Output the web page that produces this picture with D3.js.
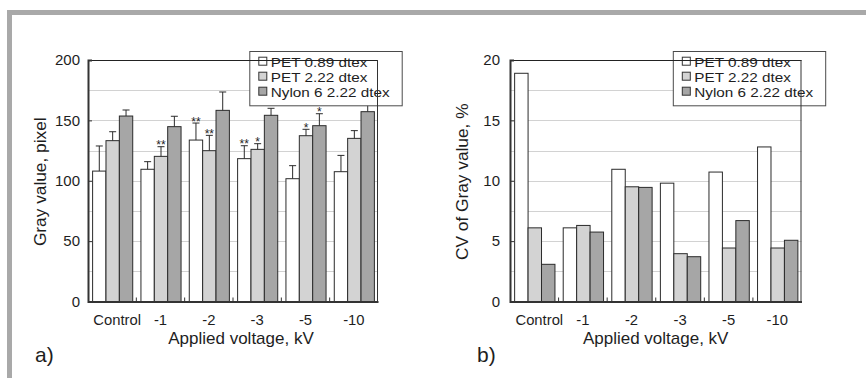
<!DOCTYPE html>
<html><head><meta charset="utf-8">
<script src="https://cdn.jsdelivr.net/npm/d3@7"></script>
<style>
body{margin:0;background:#fff}
svg{display:block}
text{font-family:"Liberation Sans",Arial,Helvetica,sans-serif;fill:#1e1e1e}
</style>
</head><body>
<svg id="c" width="866" height="378"></svg>
<script>
// ---- data ----
const categories = ["Control", "-1", "-2", "-3", "-5", "-10"];
const seriesNames = ["PET 0.89 dtex", "PET 2.22 dtex", "Nylon 6 2.22 dtex"];

// (a) gray value, pixel
const grayPET089 = [108, 109.5, 133.7, 118.3, 101.7, 107.5];
const grayPET222 = [133.2, 120.2, 124.9, 126, 137.3, 135.1];
const grayNylon6 = [153.6, 144.8, 158.3, 154.2, 145.6, 157.2];
const errPET089 = [20.8, 6.3, 14.1, 10.7, 10.8, 13.5];
const errPET222 = [7.4, 8, 12.7, 4.7, 5.3, 6.4];
const errNylon6 = [5, 8.6, 15.2, 5.8, 9.9, 7.4];
const sigPET089 = ["", "", "**", "**", "", ""];
const sigPET222 = ["", "**", "**", "*", "*", ""];
const sigNylon6 = ["", "", "", "", "*", ""];

// (b) CV of gray value, %
const cvPET089 = [18.9, 6.1, 10.95, 9.8, 10.72, 12.8];
const cvPET222 = [6.1, 6.3, 9.5, 3.96, 4.43, 4.43];
const cvNylon6 = [3.08, 5.75, 9.45, 3.71, 6.7, 5.07];

const yTicksA = [0, 50, 100, 150, 200];
const yTicksB = [0, 5, 10, 15, 20];

const colors = ["#ffffff", "#d3d3d3", "#a6a6a6"];
const svg = d3.select("#c");

// outer frame
svg.append("rect").attr("x", 7).attr("y", 10).attr("width", 859).attr("height", 5).attr("fill", "#a9a9a9");
svg.append("rect").attr("x", 7).attr("y", 10).attr("width", 5).attr("height", 368).attr("fill", "#a9a9a9");

function panel(o) {
  const g = svg.append("g");
  const x0 = d3.scaleBand().domain(categories).range([o.left, o.right]).paddingInner(0.17).paddingOuter(0.085);
  const x1 = d3.scaleBand().domain(seriesNames).range([0, x0.bandwidth()]);
  const y = d3.scaleLinear().domain([0, o.max]).range([o.bottom, o.top]);

  // gridlines
  const step = o.ticks[1] - o.ticks[0];
  const grid = d3.range(step / 2, o.max, step / 2).filter(v => v > 0);
  g.append("g").selectAll("line").data(grid).join("line")
    .attr("x1", o.left).attr("x2", o.right)
    .attr("y1", d => Math.round(y(d)) + 0.5).attr("y2", d => Math.round(y(d)) + 0.5)
    .attr("stroke", "#d2d2d2").attr("stroke-width", 1);

  // data rows
  const rows = categories.map((c, i) => ({
    cat: c,
    items: o.series.map((s, j) => ({
      name: seriesNames[j], v: s[i], j,
      e: o.err ? o.err[j][i] : null,
      sig: o.sig ? o.sig[j][i] : ""
    }))
  }));

  const grp = g.append("g").selectAll("g").data(rows).join("g")
    .attr("transform", d => `translate(${x0(d.cat)},0)`);
  grp.selectAll("rect").data(d => d.items).join("rect")
    .attr("x", d => x1(d.name) + 0.5)
    .attr("width", x1.bandwidth())
    .attr("y", d => y(d.v))
    .attr("height", d => o.bottom - y(d.v))
    .attr("fill", d => colors[d.j])
    .attr("stroke", "#2b2b2b").attr("stroke-width", 1);

  // legend
  const lw = 152.4, lh = 54.3;
  const lx = o.right - 128.7, ly = 51;
  const lg = g.append("g").attr("transform", `translate(${lx},${ly})`);
  lg.append("rect").attr("x", 0.5).attr("y", 0.5).attr("width", lw).attr("height", lh)
    .attr("fill", "#fff").attr("stroke", "#4a4a4a").attr("stroke-width", 1);
  const li = lg.selectAll("g").data(seriesNames).join("g")
    .attr("transform", (d, i) => `translate(0,${15.7 + i * 15})`);
  li.append("rect").attr("x", 9.5).attr("y", -9.5).attr("width", 8).attr("height", 8)
    .attr("fill", (d, i) => colors[i]).attr("stroke", "#333").attr("stroke-width", 1);
  li.append("text").attr("transform", "translate(21.5,0) scale(1.14,1)")
    .attr("font-size", 13.4).text(d => d);

  // error bars + significance marks
  if (o.err) {
    const eb = grp.selectAll("g.eb").data(d => d.items).join("g").attr("class", "eb");
    const cx = d => x1(d.name) + 0.5 + x1.bandwidth() / 2;
    eb.append("line").attr("x1", cx).attr("x2", cx)
      .attr("y1", d => y(d.v)).attr("y2", d => y(d.v + d.e))
      .attr("stroke", "#2b2b2b").attr("stroke-width", 1);
    eb.append("line").attr("x1", d => cx(d) - 3.5).attr("x2", d => cx(d) + 3.5)
      .attr("y1", d => y(d.v + d.e)).attr("y2", d => y(d.v + d.e))
      .attr("stroke", "#2b2b2b").attr("stroke-width", 1);
    eb.append("text").attr("x", cx).attr("y", d => y(d.v + d.e) + 2.5)
      .attr("text-anchor", "middle").attr("font-size", 12).text(d => d.sig);
  }

  // frame top/right
  g.append("line").attr("x1", o.left).attr("x2", o.right).attr("y1", o.top + 0.5).attr("y2", o.top + 0.5)
    .attr("stroke", "#222").attr("stroke-width", 1);
  g.append("line").attr("x1", o.right - 0.5).attr("x2", o.right - 0.5).attr("y1", o.top).attr("y2", o.bottom)
    .attr("stroke", "#333").attr("stroke-width", 1);

  // y axis
  const ya = d3.axisLeft(y).tickValues(o.ticks).tickSize(-4).tickPadding(o.tickPad).tickFormat(d3.format("d"));
  const yg = g.append("g").attr("transform", `translate(${o.left},0)`).call(ya);
  yg.select(".domain").attr("stroke", "#333").attr("stroke-width", 2);
  yg.selectAll(".tick line").attr("stroke", "#333");
  yg.selectAll("text").attr("font-size", 15).attr("fill", "#1e1e1e")
    .attr("font-family", "'Liberation Sans',Arial,sans-serif");

  // x axis
  const xa = d3.axisBottom(x0).tickSize(0).tickPadding(13);
  const xg = g.append("g").attr("transform", `translate(0,${o.bottom})`).call(xa);
  xg.select(".domain").attr("stroke", "#333").attr("stroke-width", 2);
  xg.selectAll("text").attr("font-size", 14.8).attr("fill", "#1e1e1e")
    .attr("font-family", "'Liberation Sans',Arial,sans-serif")
    .attr("dx", d => d === categories[0] ? 5 : 0);
  // category boundary ticks (inside)
  const bounds = categories.slice(1).map(c => x0(c) - x0.step() * x0.paddingInner() / 2);
  g.append("g").selectAll("line").data(bounds).join("line")
    .attr("x1", d => d).attr("x2", d => d).attr("y1", o.bottom).attr("y2", o.bottom - 4)
    .attr("stroke", "#333").attr("stroke-width", 1);

  // titles
  g.append("text").attr("x", o.xTitleX).attr("y", 344).attr("text-anchor", "middle")
    .attr("font-size", 17).text("Applied voltage, kV");
  g.append("text").attr("transform", `translate(${o.left - 48},${(o.top + o.bottom) / 2 + 1}) rotate(-90)`)
    .attr("dy", "0.35em").attr("text-anchor", "middle").attr("font-size", 17.3).text(o.yTitle);
  g.append("text").attr("x", o.tagX).attr("y", 362).attr("font-size", 21).text(o.tag);
}

panel({
  left: 88, right: 378, top: 60, bottom: 301.5, max: 200, ticks: yTicksA, tickPad: 8,
  series: [grayPET089, grayPET222, grayNylon6],
  err: [errPET089, errPET222, errNylon6],
  sig: [sigPET089, sigPET222, sigNylon6],
  yTitle: "Gray value, pixel", xTitleX: 241, tag: "a)", tagX: 35
});
panel({
  left: 510, right: 801.5, top: 60, bottom: 301.5, max: 20, ticks: yTicksB, tickPad: 10,
  series: [cvPET089, cvPET222, cvNylon6],
  yTitle: "CV of Gray value, %", xTitleX: 655.7, tag: "b)", tagX: 477
});
</script>
</body></html>
